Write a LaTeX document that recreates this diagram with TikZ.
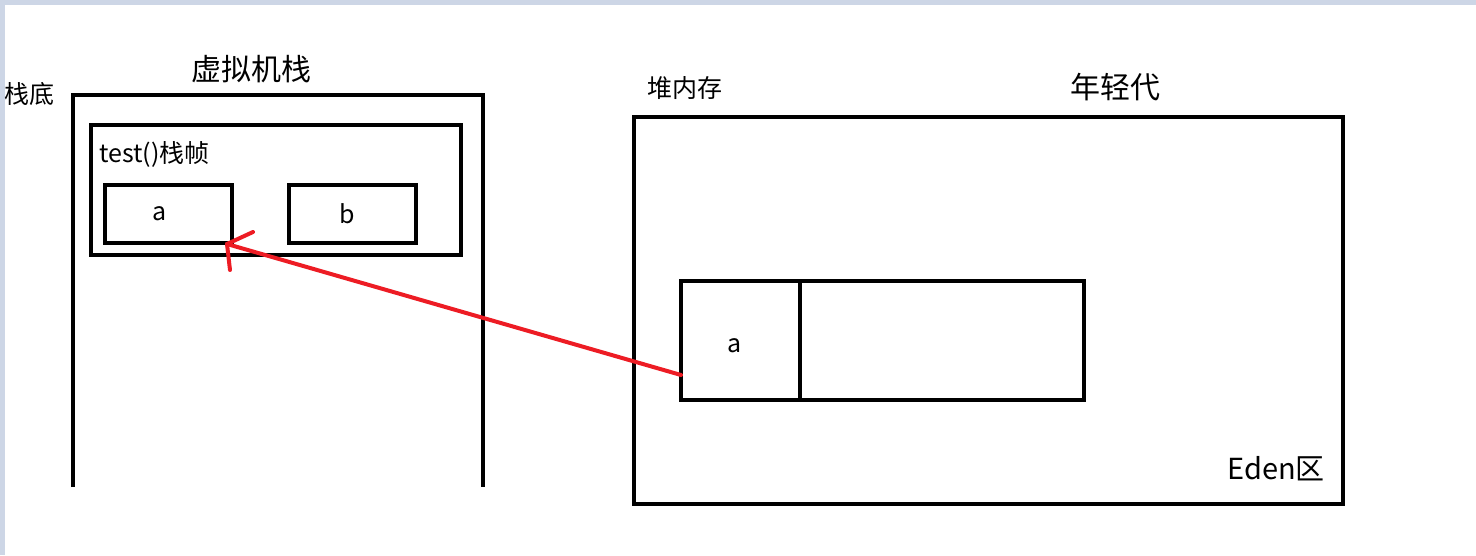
\documentclass[tikz,border=0pt]{standalone}
\usepackage{fontspec}
\setmainfont{Noto Sans CJK SC}
\definecolor{framebg}{RGB}{205,214,230}
\definecolor{ptrred}{RGB}{237,28,36}
\begin{document}
\begin{tikzpicture}[x=1pt,y=-1pt,
    box/.style={draw,line width=4pt,inner sep=0pt},
    lbl/.style={inner sep=0pt,font=\fontsize{25}{27}\selectfont},
    title/.style={inner sep=0pt,font=\fontsize{30}{32}\selectfont},
    ptr/.style={draw=ptrred,line width=4pt,line cap=round}]
  \useasboundingbox (0,0) rectangle (1476,555);
  \fill[framebg] (0,0) rectangle (1476,5);
  \fill[framebg] (0,0) rectangle (5,555);
  % virtual machine stack
  \node[title] (vmtitle) at (251,69) {虚拟机栈};
  \node[lbl] (bottom) at (30,94) {栈底};
  \draw[line width=4pt] (73,487) -- (73,95) -- (483,95) -- (483,487);
  \node[box,minimum width=370pt,minimum height=130pt] (frame) at (276,190) {};
  \node[lbl,anchor=west] (frametitle) at (99,154) {test()栈帧};
  \node[box,minimum width=127pt,minimum height=58pt] (vara) at (168.5,214) {};
  \node[lbl] at (160,214) {a};
  \node[box,minimum width=127pt,minimum height=58pt] (varb) at (352.5,214) {};
  \node[lbl] at (347,214) {b};
  % heap
  \node[lbl] (heaptitle) at (685,88) {堆内存};
  \node[title] (youngtitle) at (1115,87) {年轻代};
  \node[box,minimum width=709pt,minimum height=387pt] (heap) at (988.5,310.5) {};
  \node[title,anchor=east,font=\fontsize{29}{31}\selectfont] (eden) at (1325,469) {Eden区};
  \node[box,minimum width=119pt,minimum height=119pt] (obja) at (740.5,340.5) {};
  \node[lbl] at (735,346) {a};
  \node[box,minimum width=284pt,minimum height=119pt] (objrest) at (942,340.5) {};
  % reference from heap object back to the stack
  \coordinate (src) at (681,375);
  \coordinate (tip) at (227,244);
  \draw[ptr] (src) -- (tip);
  \draw[ptr] (tip) -- ++(26,-12);
  \draw[ptr] (tip) -- ++(3,26);
\end{tikzpicture}
\end{document}
